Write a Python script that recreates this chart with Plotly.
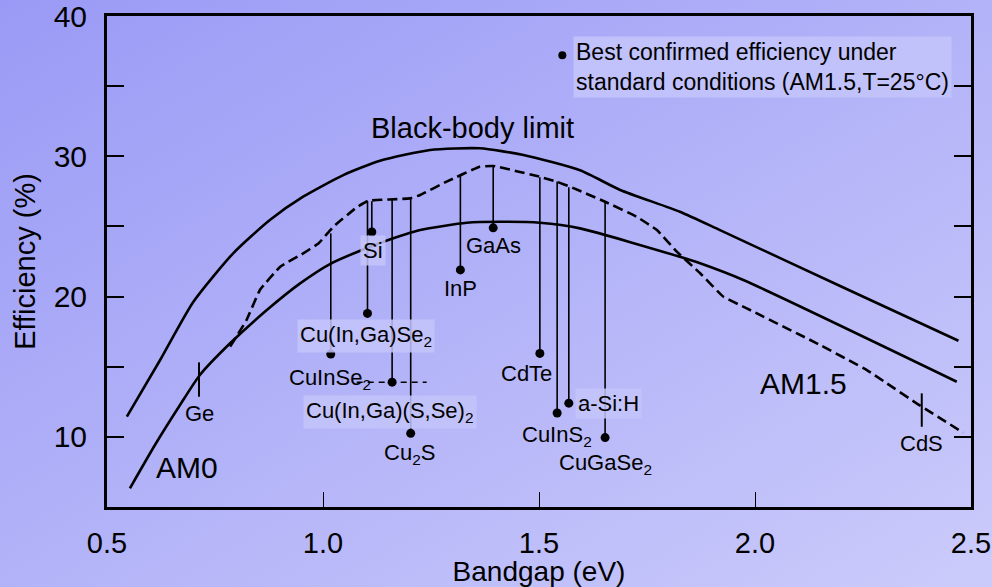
import base64
import plotly.graph_objects as go

# ---------------- data ----------------
# upper solid curve (black-body limit)
bb_gap = [0.546, 0.623, 0.700, 0.792, 0.877, 0.954, 1.047, 1.132, 1.248, 1.363, 1.464, 1.595, 1.688, 1.826, 1.919, 2.197, 2.471]
bb_eff = [11.44, 15.48, 19.63, 23.08, 25.46, 27.12, 28.66, 29.68, 30.45, 30.57, 30.09, 29.0, 27.6, 26.05, 24.74, 20.75, 16.85]

# lower solid curve (AM0)
am0_gap = [0.553, 0.611, 0.669, 0.715, 0.785, 0.870, 0.947, 1.016, 1.086, 1.140, 1.225, 1.333, 1.410, 1.502, 1.595, 1.826, 1.873, 1.973, 2.467]
am0_eff = [6.33, 9.42, 12.27, 14.41, 16.67, 19.04, 20.94, 22.32, 23.27, 23.91, 24.74, 25.26, 25.33, 25.26, 24.86, 22.84, 22.37, 21.18, 13.93]

# dashed curve (AM1.5)
am15_gap = [0.785, 0.823, 0.854, 0.901, 0.950, 0.990, 1.024, 1.078, 1.105, 1.201, 1.225, 1.286, 1.363, 1.394, 1.502, 1.541,
            1.572, 1.653, 1.726, 1.773, 1.819, 1.873, 1.927, 1.981, 2.143, 2.259, 2.305, 2.374, 2.482]
am15_eff = [16.43, 18.33, 20.47, 22.13, 23.0, 23.8, 24.98, 26.36, 26.83, 27.0, 27.24, 28.19, 29.26, 29.31, 28.54, 28.19,
            27.83, 26.76, 25.69, 24.74, 23.2, 21.66, 19.99, 19.16, 16.67, 14.76, 13.82, 12.39, 10.3]

# best confirmed cell efficiencies
materials = ["Si", "Cu(In,Ga)Se<sub>2</sub>", "CuInSe<sub>2</sub>", "Cu(In,Ga)(S,Se)<sub>2</sub>", "Cu<sub>2</sub>S",
             "InP", "GaAs", "CdTe", "CuInS<sub>2</sub>", "a-Si:H", "CuGaSe<sub>2</sub>"]
cell_gap = [1.113, 1.103, 1.018, 1.160, 1.203, 1.318, 1.394, 1.502, 1.542, 1.569, 1.653]
cell_eff = [24.6, 18.8, 15.9, 13.9, 10.25, 21.9, 24.9, 15.95, 11.7, 12.4, 9.95]
cell_top = [26.8, 26.8, 24.5, 26.9, 27.0, 28.6, 29.3, 28.5, 28.2, 27.8, 26.8]
label_gap = [1.116, 1.100, 1.016, 1.155, 1.201, 1.318, 1.394, 1.472, 1.541, 1.584, 1.653]
label_eff = [23.3, 17.2, 14.1, 11.75, 8.8, 20.55, 23.65, 14.55, 10.05, 12.39, 8.1]
label_box = [True, True, False, True, False, False, False, False, False, True, False]

# band-gap markers on the limit curves
mark_names = ["Ge", "CdS"]
mark_gap = [0.713, 2.386]
mark_low = [12.86, 10.72]
mark_high = [15.31, 13.1]
mark_label_eff = [11.68, 9.54]

# Cu(In,Ga)(S,Se)2 dashed reference line
cigss_gap = [1.078, 1.240]
cigss_eff = [13.89, 13.89]

x_ticks = [0.5, 1.0, 1.5, 2.0, 2.5]
x_ticktext = ["0.5", "1.0", "1.5", "2.0", "2.5"]
y_ticks = [10, 20, 30, 40]
y_ticktext = ["10", "20", "30", "40"]
y_minor_ticks = [15, 25, 35]

# ---------------- figure ----------------
FONT = "Arial, Liberation Sans, sans-serif"
W, H = 992, 587
ML, MR, MT, MB = 107, 21, 16, 80
PW, PH = W - ML - MR, H - MT - MB

fig = go.Figure()

fig.add_trace(go.Scatter(x=bb_gap, y=bb_eff, mode="lines",
                         line=dict(color="black", width=2.6, shape="spline", smoothing=0.6)))
fig.add_trace(go.Scatter(x=am0_gap, y=am0_eff, mode="lines",
                         line=dict(color="black", width=2.6, shape="spline", smoothing=0.6)))
fig.add_trace(go.Scatter(x=am15_gap, y=am15_eff, mode="lines",
                         line=dict(color="black", width=2.6, dash="10px,5px", shape="spline", smoothing=0.3)))

lx, ly = [], []
for g, e, t in zip(cell_gap, cell_eff, cell_top):
    lx += [g, g, None]
    ly += [e, t, None]
fig.add_trace(go.Scatter(x=lx, y=ly, mode="lines", line=dict(color="black", width=1.6)))

mx, my = [], []
for g, lo, hi in zip(mark_gap, mark_low, mark_high):
    mx += [g, g, None]
    my += [lo, hi, None]
fig.add_trace(go.Scatter(x=mx, y=my, mode="lines", line=dict(color="black", width=2)))

fig.add_trace(go.Scatter(x=cigss_gap, y=cigss_eff, mode="lines",
                         line=dict(color="black", width=1.6, dash="6px,5px")))

fig.add_trace(go.Scatter(x=cell_gap, y=cell_eff, mode="markers",
                         marker=dict(color="black", size=9)))

# legend bullet
fig.add_trace(go.Scatter(x=[1.554], y=[37.2], mode="markers", marker=dict(color="black", size=8)))

box_bg = "rgba(196,196,252,0.85)"
for name, g, e, bx in zip(materials, label_gap, label_eff, label_box):
    fig.add_annotation(x=g, y=e, text=name, showarrow=False,
                       xanchor="left" if name == "a-Si:H" else "center",
                       font=dict(family=FONT, size=22, color="black"),
                       bgcolor=box_bg if bx else None, borderpad=2)

for name, g, e in zip(mark_names, mark_gap, mark_label_eff):
    fig.add_annotation(x=g, y=e, text=name, showarrow=False,
                       font=dict(family=FONT, size=22, color="black"))

fig.add_annotation(x=1.347, y=32.0, text="Black-body limit", showarrow=False,
                   font=dict(family=FONT, size=29, color="black"))
fig.add_annotation(x=0.6845, y=7.83, text="AM0", showarrow=False,
                   font=dict(family=FONT, size=30, color="black"))
fig.add_annotation(x=2.112, y=13.82, text="AM1.5", showarrow=False,
                   font=dict(family=FONT, size=30, color="black"))
fig.add_annotation(x=1.578, y=36.4, xanchor="left", align="left",
                   text="Best confirmed efficiency under<br>standard conditions (AM1.5,T=25°C)",
                   showarrow=False, bgcolor=box_bg, borderpad=2,
                   font=dict(family=FONT, size=23, color="black"))

# gradient background
svg = (f'<svg xmlns="http://www.w3.org/2000/svg" width="{W}" height="{H}" viewBox="0 0 {W} {H}" '
       'preserveAspectRatio="none"><defs><linearGradient id="g" x1="0" y1="0" x2="1" y2="1">'
       '<stop offset="0" stop-color="#9a9af6"/><stop offset="1" stop-color="#cbcbfb"/>'
       f'</linearGradient></defs><rect width="{W}" height="{H}" fill="url(#g)"/></svg>')
src = "data:image/svg+xml;base64," + base64.b64encode(svg.encode()).decode()
fig.add_layout_image(source=src, xref="paper", yref="paper",
                     x=-ML / PW, y=1 + MT / PH, sizex=W / PW, sizey=H / PH,
                     xanchor="left", yanchor="top", sizing="stretch", layer="below")

fig.update_layout(
    width=W, height=H,
    margin=dict(l=ML, r=MR, t=MT, b=MB, autoexpand=False),
    paper_bgcolor="#b3b3f8", plot_bgcolor="rgba(0,0,0,0)",
    showlegend=False,
    font=dict(family=FONT, color="black"),
    xaxis=dict(range=[0.5, 2.5], tickvals=x_ticks, ticktext=x_ticktext, automargin=False,
               ticks="inside", ticklen=15, tickwidth=1.2, tickcolor="black",
               showline=True, linewidth=3, linecolor="black", mirror=True,
               showgrid=False, zeroline=False, ticklabeloverflow="allow",
               tickfont=dict(size=29, family=FONT), ticklabelstandoff=8,
               title=dict(text="Bandgap (eV)", font=dict(size=28, family=FONT), standoff=3)),
    yaxis=dict(range=[5, 40], tickvals=y_ticks, ticktext=y_ticktext, automargin=False,
               ticks="inside", ticklen=17, tickwidth=1.6, tickcolor="black",
               minor=dict(tickvals=y_minor_ticks, ticks="inside", ticklen=17, tickwidth=1.6,
                          tickcolor="black", showgrid=False),
               showline=True, linewidth=3, linecolor="black", mirror="allticks",
               showgrid=False, zeroline=False, ticklabeloverflow="allow",
               tickfont=dict(size=30, family=FONT), ticklabelstandoff=11,
               title=dict(text="Efficiency (%)", font=dict(size=29, family=FONT), standoff=10)),
)

fig.write_html("out.html")
